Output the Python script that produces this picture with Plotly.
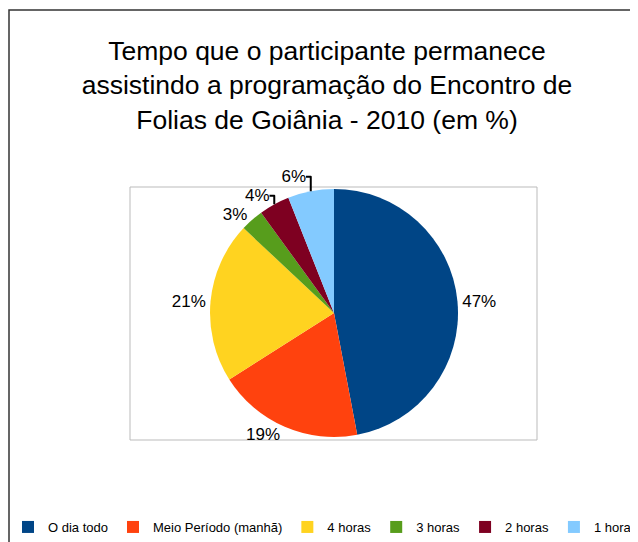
import plotly.graph_objects as go

categories = ["O dia todo", "Meio Período (manhã)", "4 horas", "3 horas", "2 horas", "1 hora"]
values = [47, 19, 21, 3, 4, 6]
colors = ["#004586", "#ff420e", "#ffd320", "#579d1c", "#7e0021", "#83caff"]

W, H = 638, 542
CX, CY, R = 326, 305, 124

fig = go.Figure()
fig.add_trace(go.Pie(
    labels=categories,
    values=values,
    sort=False,
    direction="clockwise",
    rotation=0,
    marker=dict(colors=colors, line=dict(width=0)),
    textposition="outside",
    texttemplate="%{value}%",
    textfont=dict(size=17, color="#000000", family="Liberation Sans, Arial, sans-serif"),
    hoverinfo="label+percent",
    domain=dict(x=[(CX - R) / W, (CX + R) / W], y=[1 - (CY + R) / H, 1 - (CY - R) / H]),
    showlegend=True,
))

fig.update_layout(
    width=W, height=H,
    margin=dict(l=0, r=0, t=0, b=0),
    paper_bgcolor="white",
    plot_bgcolor="white",
    font=dict(family="Liberation Sans, Arial, sans-serif", color="#000000"),
    title=dict(
        text="Tempo que o participante permanece<br>assistindo a programação do Encontro de<br>Folias de Goiânia - 2010 (em %)",
        x=0.5, xanchor="center", xref="paper",
        y=1 - 52 / H, yanchor="middle", yref="container",
        font=dict(size=26.5, color="#000000"),
    ),
    legend=dict(
        orientation="h",
        x=0.0, xanchor="left",
        y=1 - 519 / H, yanchor="middle",
        font=dict(size=13, color="#000000"),
        itemwidth=30,
        tracegroupgap=0,
        bgcolor="rgba(0,0,0,0)",
    ),
    shapes=[
        dict(type="rect", xref="paper", yref="paper",
             x0=1 / W, x1=1.02, y0=-0.05, y1=1 - 2 / H,
             line=dict(color="#333333", width=1.5), fillcolor="rgba(0,0,0,0)", layer="below"),
        dict(type="rect", xref="paper", yref="paper",
             x0=122 / W, x1=529 / W, y0=1 - 432 / H, y1=1 - 179 / H,
             line=dict(color="#bbbbbb", width=1), fillcolor="rgba(0,0,0,0)", layer="below"),
    ],
)

fig.write_html("out.html")
